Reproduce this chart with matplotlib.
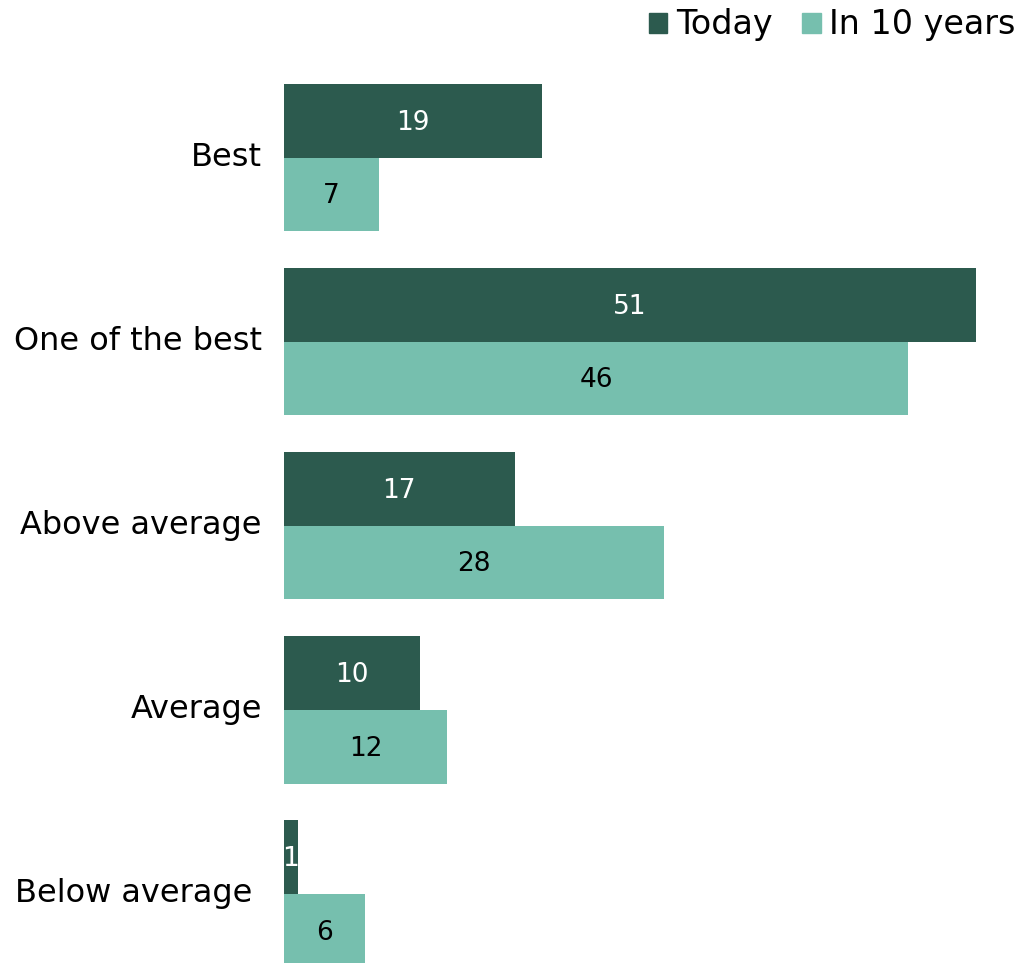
import numpy as np
import matplotlib.pyplot as plt
from matplotlib.patches import Patch

categories = ['Best', 'One of the best', 'Above average', 'Average', 'Below average']
today = [19, 51, 17, 10, 1]
in_10_years = [7, 46, 28, 12, 6]
series_names = ['Today', 'In 10 years']

dark = '#2C5A4E'
light = '#76BFAE'

W, H = 1019, 963
fig = plt.figure(figsize=(W / 100, H / 100), dpi=100)
# axes: x=0 at px 284, top at px 84, bottom at figure bottom
ax = fig.add_axes([284 / W, 0, (W - 284) / W, 1 - 84 / H])

y = np.arange(len(categories))
h = 0.4
b1 = ax.barh(y - h / 2, today, height=h, color=dark)
b2 = ax.barh(y + h / 2, in_10_years, height=h, color=light)

ax.set_xlim(0, (W - 284) / 13.57)
ax.set_ylim(4.375, -0.4)

for bar, v in zip(b1, today):
    ax.text(bar.get_width() / 2, bar.get_y() + bar.get_height() / 2 + 0.01, str(v),
            color='white', ha='center', va='center', fontsize=19)
for bar, v in zip(b2, in_10_years):
    ax.text(bar.get_width() / 2, bar.get_y() + bar.get_height() / 2 + 0.01, str(v),
            color='black', ha='center', va='center', fontsize=19)

# category labels (last one sits a bit further left in the original)
for i, c in enumerate(categories):
    off = -16 if c != 'Below average' else -23
    ax.annotate(c, xy=(0, i), xycoords=('axes fraction', 'data'),
                xytext=(off, 0), textcoords='offset points',
                ha='right', va='center', fontsize=23)

ax.set_yticks([])
ax.set_xticks([])
for s in ax.spines.values():
    s.set_visible(False)

handles = [Patch(color=dark), Patch(color=light)]
fig.legend(handles, series_names, loc='upper right', bbox_to_anchor=(1.016, 1.012),
           ncol=2, frameon=False, fontsize=24, handlelength=0.55, handleheight=0.55,
           handletextpad=0.25, columnspacing=0.9, borderaxespad=0.2)

fig.savefig('out.png', dpi=100)
